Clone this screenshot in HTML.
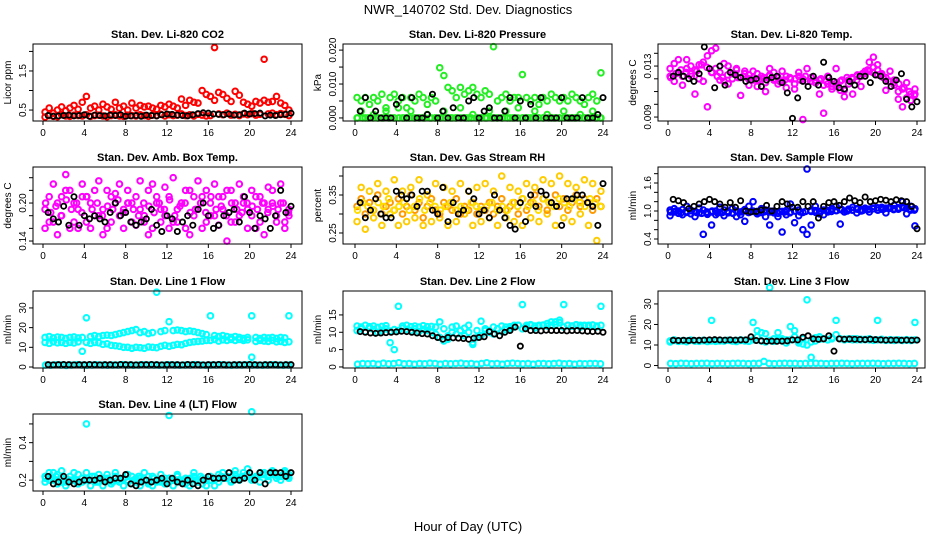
<!DOCTYPE html>
<html><head><meta charset="utf-8"><style>
body{margin:0;background:#fff}
svg{display:block;font-family:"Liberation Sans",sans-serif}
</style></head><body>
<svg id="c" width="936" height="540" viewBox="0 0 936 540">
<text x="468" y="14" text-anchor="middle" font-size="13">NWR_140702 Std. Dev. Diagnostics</text>
<text x="468" y="531" text-anchor="middle" font-size="13">Hour of Day (UTC)</text>
</svg>
<script>
const xTicks=[0,4,8,12,16,20,24];
const co2A=[0.32,0.36,0.34,0.33,0.38,0.35,0.34,0.37,0.36,0.35,0.38,0.34,0.36,0.37,0.35,0.33,0.36,0.38,0.35,0.34,0.37,0.36,0.35,0.38,0.36,0.34,0.37,0.36,0.39,0.35,0.38,0.36,0.37,0.4,0.36,0.38,0.35,0.39,0.37,0.35,0.36,2.1,0.4,0.38,0.42,0.37,0.39,0.36,0.4,0.38,0.41,0.37,0.39,1.8,0.4,0.42,0.38,0.41,0.39,0.36];
const co2B=[0.45,0.55,0.42,0.5,0.58,0.48,0.55,0.62,0.52,0.7,0.85,0.55,0.6,0.5,0.65,0.58,0.52,0.7,0.55,0.6,0.5,0.68,0.55,0.62,0.58,0.6,0.55,0.52,0.62,0.58,0.65,0.6,0.55,0.78,0.62,0.75,0.7,0.68,1.0,0.9,0.85,0.75,0.95,0.9,0.8,0.72,0.98,0.88,0.7,0.65,0.6,0.72,0.68,0.75,0.7,0.72,0.85,0.68,0.62,0.5];
const co2K=[0.36,0.34,0.35,0.36,0.37,0.35,0.36,0.38,0.34,0.37,0.36,0.35,0.37,0.36,0.38,0.34,0.35,0.36,0.34,0.37,0.36,0.35,0.38,0.4,0.39,0.37,0.36,0.35,0.38,0.41,0.43,0.42,0.4,0.39,0.38,0.4,0.37,0.38,0.42,0.4,0.41,0.42,0.35,0.37,0.36,0.38,0.39,0.42];
const presA=[0,0.002,0,0,0.001,0,0,0.002,0,0,0.003,0,0,0.002,0,0,0,0.001,0,0,0,0.002,0,0,0,0.003,0,0,0.001,0,0,0,0.002,0,0,0,0.002,0,0,0.003,0,0,0,0.002,0,0,0.001,0,0,0,0.002,0,0,0,0.001,0,0,0.002,0,0];
const presB=[0.006,0.005,0.006,0.004,0.006,0.005,0.007,0.003,0.006,0.007,0.005,0.006,0.003,0.006,0.005,0.007,0.006,0.004,0.006,0.005,0.0148,0.0125,0.009,0.008,0.006,0.009,0.007,0.008,0.009,0.007,0.006,0.008,0.007,0.021,0.005,0.006,0.007,0.005,0.006,0.006,0.0128,0.006,0.005,0.006,0.004,0.006,0.005,0.007,0.006,0.005,0.006,0.005,0.007,0.006,0.005,0.004,0.006,0.007,0.005,0.0133];
const presC=[0,0,0,0,0,0,0,0,0,0,0,0,0,0,0,0,0,0,0,0,0,0,0,0,0,0,0,0,0,0,0,0,0,0,0,0,0,0,0,0,0,0,0,0,0,0,0,0];
const presK=[0.002,0.006,0,0.002,0,0,0,0.004,0.006,0,0.006,0,0,0.001,0.007,0,0.002,0,0.003,0,0,0.005,0.006,0,0.002,0.003,0,0,0.002,0.006,0,0.005,0,0.004,0,0.006,0,0,0,0.006,0,0,0,0.006,0,0,0.001,0.006];
const tempA=[0.0128,0.0132,0.0125,0.0122,0.0135,0.013,0.0127,0.012,0.0133,0.0138,0.0142,0.0128,0.0125,0.0118,0.013,0.0124,0.0127,0.0121,0.0126,0.0123,0.0119,0.0124,0.012,0.0117,0.0123,0.0125,0.0121,0.0118,0.0122,0.012,0.0116,0.0122,0.012,0.0118,0.0121,0.0117,0.0119,0.0115,0.0116,0.0112,0.0114,0.0118,0.0111,0.0116,0.012,0.0119,0.0122,0.0124,0.0126,0.0129,0.0127,0.0123,0.0121,0.0118,0.0115,0.011,0.0112,0.0105,0.0103,0.0108];
const tempB=[0.0122,0.0118,0.0135,0.0115,0.0128,0.0124,0.0108,0.0131,0.0118,0.0098,0.0125,0.0144,0.0119,0.0132,0.0116,0.012,0.0128,0.0107,0.0124,0.0115,0.0126,0.0114,0.0122,0.011,0.0128,0.0119,0.0116,0.0126,0.0113,0.012,0.0112,0.0125,0.0088,0.0128,0.0121,0.0119,0.0108,0.0093,0.0122,0.0114,0.0128,0.0111,0.0106,0.0119,0.0108,0.0122,0.0114,0.0126,0.0133,0.0137,0.0131,0.0124,0.0111,0.0126,0.0119,0.0104,0.0098,0.0117,0.0108,0.0112];
const tempC=[0.0121,0.0124,0.0127,0.0125,0.0122,0.0126,0.0131,0.0129,0.0125,0.0122,0.0121,0.0123,0.0124,0.0121,0.0122,0.012,0.0121,0.0119,0.0121,0.0122,0.012,0.0118,0.0119,0.0121,0.012,0.0119,0.0122,0.0118,0.0117,0.012,0.0118,0.0116,0.0117,0.0119,0.0121,0.0121,0.0123,0.0124,0.0127,0.0125,0.0123,0.0121,0.0118,0.0117,0.0116,0.0113,0.011,0.0107];
const tempK=[0.0122,0.0125,0.0122,0.012,0.0118,0.0124,0.0145,0.0128,0.0113,0.013,0.0115,0.0125,0.0123,0.0121,0.0118,0.0119,0.012,0.0114,0.0119,0.0121,0.0122,0.0117,0.0109,0.0089,0.0105,0.0118,0.0114,0.0122,0.0115,0.0133,0.0121,0.0118,0.0113,0.0112,0.0118,0.0115,0.0122,0.0122,0.0117,0.0123,0.0122,0.0118,0.0114,0.0119,0.0124,0.0104,0.0098,0.0102];
const ambA=[0.19,0.21,0.17,0.2,0.18,0.22,0.16,0.2,0.19,0.21,0.17,0.2,0.22,0.18,0.19,0.16,0.21,0.2,0.18,0.19,0.2,0.17,0.21,0.19,0.18,0.22,0.16,0.2,0.19,0.18,0.21,0.17,0.19,0.2,0.16,0.22,0.18,0.19,0.21,0.17,0.2,0.18,0.21,0.19,0.22,0.17,0.2,0.18,0.21,0.19,0.18,0.21,0.17,0.2,0.19,0.22,0.18,0.2,0.17,0.19];
const ambB=[0.16,0.17,0.23,0.15,0.21,0.245,0.22,0.17,0.16,0.23,0.21,0.16,0.18,0.235,0.15,0.22,0.17,0.215,0.23,0.16,0.22,0.2,0.165,0.235,0.17,0.15,0.23,0.21,0.17,0.225,0.16,0.24,0.17,0.2,0.22,0.15,0.21,0.235,0.16,0.22,0.18,0.23,0.165,0.21,0.14,0.22,0.17,0.23,0.2,0.16,0.22,0.16,0.21,0.15,0.225,0.2,0.17,0.23,0.16,0.18];
const ambC=[0.2,0.185,0.195,0.18,0.205,0.19,0.2,0.185,0.21,0.19,0.2,0.18,0.195,0.19,0.205,0.185,0.2,0.19,0.18,0.2,0.195,0.185,0.2,0.19,0.205,0.18,0.195,0.2,0.185,0.19,0.2,0.185,0.21,0.19,0.195,0.18,0.2,0.19,0.185,0.2,0.195,0.19,0.2,0.185,0.195,0.19,0.2,0.185];
const ambK=[0.185,0.175,0.17,0.195,0.165,0.21,0.165,0.18,0.175,0.18,0.175,0.17,0.185,0.2,0.18,0.185,0.17,0.165,0.17,0.175,0.19,0.165,0.155,0.18,0.175,0.155,0.17,0.18,0.165,0.19,0.2,0.18,0.16,0.165,0.18,0.185,0.19,0.17,0.21,0.185,0.16,0.18,0.175,0.16,0.18,0.22,0.185,0.195];
const rhA=[0.32,0.34,0.3,0.33,0.31,0.35,0.3,0.32,0.33,0.31,0.34,0.3,0.32,0.35,0.31,0.33,0.29,0.32,0.34,0.31,0.3,0.33,0.32,0.31,0.34,0.3,0.32,0.31,0.33,0.3,0.32,0.31,0.33,0.3,0.32,0.34,0.31,0.32,0.33,0.3,0.34,0.31,0.33,0.35,0.32,0.34,0.31,0.33,0.35,0.32,0.34,0.31,0.33,0.35,0.32,0.34,0.33,0.31,0.34,0.32];
const rhB=[0.28,0.37,0.26,0.36,0.29,0.38,0.27,0.36,0.3,0.39,0.27,0.36,0.28,0.37,0.29,0.39,0.27,0.35,0.28,0.38,0.29,0.37,0.27,0.36,0.28,0.38,0.3,0.36,0.27,0.37,0.28,0.38,0.29,0.36,0.27,0.4,0.29,0.37,0.28,0.36,0.27,0.38,0.29,0.37,0.28,0.39,0.3,0.38,0.27,0.4,0.29,0.38,0.28,0.37,0.3,0.39,0.27,0.38,0.23,0.36];
const rhC=[0.31,0.33,0.32,0.31,0.33,0.32,0.34,0.31,0.32,0.33,0.31,0.32,0.34,0.31,0.33,0.32,0.31,0.32,0.33,0.31,0.32,0.31,0.33,0.32,0.31,0.32,0.33,0.31,0.32,0.31,0.33,0.32,0.34,0.32,0.33,0.31,0.34,0.33,0.32,0.34,0.33,0.32,0.34,0.33,0.32,0.34,0.33,0.32];
const rhK=[0.33,0.29,0.31,0.34,0.3,0.29,0.29,0.36,0.35,0.34,0.35,0.32,0.36,0.36,0.31,0.3,0.37,0.28,0.33,0.3,0.31,0.36,0.34,0.3,0.31,0.29,0.35,0.31,0.29,0.27,0.26,0.33,0.28,0.35,0.32,0.36,0.35,0.33,0.32,0.27,0.34,0.34,0.35,0.35,0.33,0.32,0.27,0.38];
const sfA=[1.02,0.98,1.0,1.03,0.97,1.01,0.99,0.96,1.02,0.95,0.98,1.0,0.97,1.02,0.99,0.96,1.0,0.98,1.03,0.97,1.0,0.99,0.97,1.02,0.98,1.0,0.95,0.99,1.01,0.98,1.0,1.02,0.97,1.9,0.99,1.01,0.98,1.02,1.0,1.03,1.01,1.03,0.99,1.04,1.02,1.05,1.03,1.06,1.04,1.05,1.07,1.04,1.06,1.08,1.05,1.07,1.09,1.06,1.1,1.05];
const sfB=[0.9,1.05,0.95,0.92,1.1,0.94,0.88,1.06,0.5,0.93,0.7,0.92,1.08,0.9,0.96,1.05,0.88,0.92,0.78,1.1,1.2,0.94,1.05,0.88,0.7,0.96,0.88,0.55,0.92,1.15,0.75,0.9,0.6,0.5,0.7,1.1,0.94,0.92,0.98,1.05,1.1,0.72,0.98,1.02,1.08,0.96,1.0,1.04,0.98,1.1,1.02,1.08,0.96,1.06,1.12,1.04,1.2,0.94,1.02,0.68];
const sfC=[0.98,1.0,0.96,0.99,1.01,0.97,0.95,0.98,1.0,0.96,0.97,0.99,0.95,0.98,1.0,0.97,0.99,0.96,0.98,1.0,0.97,0.99,0.98,0.96,1.0,0.98,0.99,1.01,0.97,1.0,1.02,0.99,1.01,1.03,1.0,1.02,1.04,1.01,1.03,1.05,1.02,1.04,1.06,1.03,1.05,1.07,1.04,1.02];
const sfK=[1.25,1.22,1.18,1.05,1.1,1.15,1.2,1.25,1.2,1.15,1.08,1.18,1.08,1.22,1.0,0.98,0.99,1.02,1.12,1.0,1.1,1.2,1.15,1.08,1.08,1.2,1.1,1.2,0.85,1.1,1.18,1.2,1.12,1.2,1.28,1.22,1.18,1.3,1.2,1.22,1.25,1.23,1.2,1.24,1.22,1.2,1.1,0.62];
const l1A=[15,15.5,14.8,15.2,15,14.5,15,15.3,14.8,15,25,15.5,16,15.5,16,16.2,16,16.5,17,17.5,18,18.5,19,17.5,18,17,17.5,38,18,18.5,23,18.5,18.8,18.5,18,18.3,18,17.5,17,16.5,26,16,15.5,16,15.5,15,15.5,15,14.5,15,26,15,14.5,15,14.8,15,14.5,15,14.8,26];
const l1B=[12.5,12,12.8,12.3,12.5,12,12.5,12.2,12.8,8,12.5,12,12.5,12.3,11.5,11.8,11,10.8,10.5,10,10,9.5,10,9.8,9.5,10.2,10,9.8,10.5,11,10.5,11,11.5,11.3,12,12.5,12.8,13,13.2,13.5,13.5,14,13.2,13.8,13.5,14,13.5,14,13.5,13.8,5,13,13.5,13.2,13,13.5,12.8,13,12.5,12.8];
const l1C=[1,0.9,1.1,1,0.8,1,1.2,1,0.9,1,1.1,1,0.9,1,1,1.2,1,0.9,1,1.1,1,1,0.9,1,1.1,1,0.9,1,1,1.2,1,0.9,1,1,1.1,1,0.9,1,1,1.1,1,1,0.9,1,1.1,1,0.9,1];
const l1K=[1.2,1.1,1.2,1.3,1.2,1.1,1.2,1.2,1.3,1.2,1.1,1.2,1.2,1.1,1.3,1.2,1.2,1.1,1.2,1.2,1.3,1.2,1.1,1.2,1.2,1.2,1.1,1.3,1.2,1.2,1.1,1.2,1.2,1.3,1.2,1.1,1.2,1.2,1.2,1.3,1.2,1.1,1.2,1.2,1.2,1.1,1.2,1.2];
const l2A=[11.8,11.5,12,11.6,11.8,11.4,11.7,11.9,7,5,17.5,11.8,12,11.6,11.8,11.5,11.9,11.6,11.7,11.5,13,11,8,11.5,11.8,10.5,11.2,12,7,10.5,13.2,11,10.5,11.5,11,11.8,11.5,11.6,12,12,18,12,12.2,11.8,12,12.1,11.8,12,13,13.5,18,12,11.8,12.1,12,11.9,12,12.1,11.8,17.5];
const l2B=[10.5,11,10.2,11.2,10.8,10,10.5,11,10.3,10.8,10.5,11.2,10.8,10.5,11,10.2,10.8,10.5,10,9.5,8.5,7.5,9,10,9.5,10.5,9,10,6.5,8.5,9,10.5,10,9.5,11,10.2,10.8,11,11.5,12,11,11.5,12,11.2,11.8,12,12.5,13,12.2,12.8,11.5,12,11.8,12.2,11.5,12,11.8,12.1,11.6,12];
const l2C=[0.8,1,0.9,1,0.8,1.1,0.9,1,1.2,0.9,1,0.8,1,0.9,1.1,1,0.8,1,0.9,1,1.1,0.9,1,0.8,1,1.2,0.9,1,0.8,1,1.1,1,0.9,1,0.8,1,1,0.9,1,1.1,0.9,1,0.8,1,0.9,1,1,0.9];
const l2K=[10.2,10,9.8,9.7,9.8,9.9,10,10.1,10.3,10.2,10,9.8,9.6,9.5,9,8.5,8,8.5,8.4,8.3,8.2,8,8.3,8.5,8.7,10.2,9.5,9,10,10.5,11.5,6,11,10.5,10.5,10.4,10.6,10.5,10.5,10.5,10.4,10.5,10.5,10.4,10.3,10.2,10.3,10];
const l3A=[12,12.2,11.8,12.1,12,12.3,11.9,12,12.1,12,22,12.2,12,12.1,12.3,12,12.2,12.5,12.3,12,21,17,16,15.5,38,13,16,13,12.5,19,17,12,13,32,4,13.5,14,13,12.5,13.5,22,13,12.5,12.8,13,12.6,12.5,12.7,12.5,12.3,22,12.5,12.3,12.4,12.2,12.5,12.3,12.4,12.2,21];
const l3B=[11.5,12.5,11.8,12,11.6,12.4,12,11.8,12.3,11.7,12,11.8,12.2,11.9,12.3,12,11.7,12.2,12,11.8,12.5,14,12,11.5,12.2,11.8,12.5,12,11,12.5,14,11,10.5,10,11.5,12,12.8,13,12.5,13,15,13,12.8,13,12.5,13,12.8,12.6,13,12.4,12.5,12.8,12.3,12.6,12.4,12.5,12.2,12.6,12.3,12.5];
const l3C=[1,0.9,1.1,1,0.9,1,1,1.1,0.9,1,1,0.9,1,1.1,1,0.9,1,1,2,1,0.9,1,1.1,1,1,0.9,1,1,1.1,1,0.9,1,1,1.1,1,0.9,1,1,1,1.1,1,0.9,1,1,1.1,1,0.9,1];
const l3K=[12.3,12.2,12.3,12.2,12.3,12.3,12.4,12.5,12.6,12.5,12.4,12.5,12.4,12.5,12.5,14,12.2,12,11.8,11.9,11.8,11.9,12,12.5,12.5,13.8,14.5,13,12.8,13,14.5,7,13,12.8,12.9,12.8,12.7,12.6,12.8,12.6,12.5,12.4,12.4,12.4,12.3,12.4,12.3,12.4];
const l4A=[0.22,0.24,0.2,0.23,0.21,0.19,0.22,0.2,0.23,0.21,0.5,0.2,0.22,0.19,0.21,0.23,0.2,0.22,0.19,0.21,0.2,0.22,0.19,0.21,0.2,0.18,0.22,0.2,0.19,0.21,0.545,0.2,0.22,0.19,0.21,0.2,0.22,0.19,0.21,0.2,0.22,0.2,0.23,0.21,0.22,0.2,0.23,0.21,0.24,0.22,0.565,0.22,0.24,0.23,0.22,0.24,0.23,0.22,0.24,0.23];
const l4B=[0.19,0.2,0.24,0.18,0.25,0.17,0.2,0.24,0.18,0.19,0.24,0.17,0.19,0.23,0.17,0.2,0.18,0.24,0.21,0.17,0.23,0.18,0.21,0.17,0.24,0.22,0.17,0.19,0.23,0.18,0.21,0.17,0.23,0.2,0.18,0.17,0.24,0.2,0.18,0.17,0.2,0.17,0.19,0.24,0.21,0.19,0.25,0.2,0.22,0.26,0.2,0.21,0.19,0.24,0.2,0.25,0.21,0.2,0.25,0.21];
const l4C=[0.21,0.2,0.22,0.19,0.21,0.2,0.19,0.21,0.2,0.22,0.19,0.2,0.21,0.19,0.2,0.21,0.19,0.2,0.22,0.2,0.19,0.21,0.2,0.19,0.21,0.2,0.19,0.2,0.21,0.2,0.22,0.21,0.2,0.21,0.22,0.21,0.22,0.21,0.22,0.23,0.21,0.22,0.23,0.22,0.23,0.22,0.23,0.22];
const l4K=[0.22,0.18,0.19,0.22,0.19,0.18,0.19,0.2,0.2,0.2,0.21,0.19,0.2,0.21,0.21,0.23,0.18,0.17,0.19,0.2,0.19,0.2,0.21,0.18,0.21,0.19,0.18,0.2,0.18,0.17,0.2,0.22,0.21,0.21,0.21,0.24,0.2,0.2,0.21,0.24,0.2,0.24,0.18,0.24,0.24,0.24,0.22,0.24];

const NS='http://www.w3.org/2000/svg';
const svg=document.getElementById('c');
function mk(tag,attrs,parent){const e=document.createElementNS(NS,tag);for(const k in attrs)e.setAttribute(k,attrs[k]);(parent||svg).appendChild(e);return e;}
const cols=[{l:33,r:302,x0:43,x1:291},{l:343,r:612,x0:355,x1:603},{l:658,r:925,x0:668,x1:917}];
const rows=[44,167,291,414];
const H=77;
const panels=[
 {key:'co2',t:'Stan. Dev. Li-820 CO2',yl:'Licor ppm',lo:0.22,hi:2.19,ticks:[0.5,1,1.5,2],labs:['0.5','','1.5',''],c:['#ff0000','#ff0000'],s:[co2B,co2A],k:co2K},
 {key:'pressure',t:'Stan. Dev. Li-820 Pressure',yl:'kPa',lo:-0.0009,hi:0.0218,ticks:[0,0.005,0.01,0.015,0.02],labs:['0.000','','0.010','','0.020'],c:['#22ee22','#22ee22','#22ee22'],s:[presC,presA,presB],k:presK},
 {key:'temp',t:'Stan. Dev. Li-820 Temp.',yl:'degrees C',lo:0.00869,hi:0.01473,ticks:[0.009,0.01,0.011,0.012,0.013,0.014],labs:['0.009','','','','0.013',''],c:['#ff00ff','#ff00ff','#ff00ff'],s:[tempB,tempC,tempA],k:tempK},
 {key:'amb',t:'Stan. Dev. Amb. Box Temp.',yl:'degrees C',lo:0.1353,hi:0.2569,ticks:[0.14,0.16,0.18,0.2,0.22,0.24],labs:['0.14','','','0.20','',''],c:['#ff00ff','#ff00ff','#ff00ff'],s:[ambB,ambC,ambA],k:ambK},
 {key:'rh',t:'Stan. Dev. Gas Stream RH',yl:'percent',lo:0.221,hi:0.4237,ticks:[0.25,0.3,0.35,0.4],labs:['0.25','','0.35',''],c:['#ffcc00','#ff9900','#ffdd00'],s:[rhB,rhA,rhC],k:rhK},
 {key:'sample-flow',t:'Stan. Dev. Sample Flow',yl:'ml/min',lo:0.293,hi:1.943,ticks:[0.4,0.6,0.8,1,1.2,1.4,1.6,1.8],labs:['0.4','','','1.0','','','1.6',''],c:['#0000ff','#0000ff','#0000ff'],s:[sfB,sfC,sfA],k:sfK},
 {key:'line1',t:'Stan. Dev. Line 1 Flow',yl:'ml/min',lo:-0.5,hi:38.6,ticks:[0,10,20,30],labs:['0','10','20','30'],c:['#00ffff','#00ffff','#00ffff'],s:[l1C,l1B,l1A],k:l1K},
 {key:'line2',t:'Stan. Dev. Line 2 Flow',yl:'ml/min',lo:-0.3,hi:21.9,ticks:[0,5,10,15],labs:['0','5','10','15'],c:['#00ffff','#00ffff','#00ffff'],s:[l2C,l2B,l2A],k:l2K},
 {key:'line3',t:'Stan. Dev. Line 3 Flow',yl:'ml/min',lo:-1.2,hi:36.3,ticks:[0,10,20,30],labs:['0','10','20','30'],c:['#00ffff','#00ffff','#00ffff'],s:[l3C,l3B,l3A],k:l3K},
 {key:'line4',t:'Stan. Dev. Line 4 (LT) Flow',yl:'ml/min',lo:0.142,hi:0.553,ticks:[0.2,0.3,0.4,0.5],labs:['0.2','','0.4',''],c:['#00ffff','#00ffff','#00ffff'],s:[l4B,l4C,l4A],k:l4K}
];
panels.forEach((p,i)=>{
  const col=cols[i%3], top=rows[Math.floor(i/3)], bot=top+H;
  const g=mk('g',{});
  
  
  const xs=h=>col.x0+h/24*(col.x1-col.x0);
  const ys=v=>bot-(v-p.lo)/(p.hi-p.lo)*H;
  const cx=(col.l+col.r)/2;
  const t=mk('text',{x:cx,y:top-6,'text-anchor':'middle','font-size':11,'font-weight':'bold'},g);t.textContent=p.t;
  
  const yl=mk('text',{transform:`translate(${col.l-22},${(top+bot)/2}) rotate(-90)`,'text-anchor':'middle','font-size':10},g);yl.textContent=p.yl;
  
  const pts=mk('g',{},g);
  
  p.s.forEach((arr,si)=>{const step=24/arr.length;arr.forEach((v,j)=>{
    const c=mk('circle',{cx:xs(j*step+step/2),cy:ys(v),r:2.8,fill:'none',stroke:p.c[si],'stroke-width':2},pts);
    
  });});
  p.k.forEach((v,j)=>{
    const c=mk('circle',{cx:xs((j+1)*0.5),cy:ys(v),r:2.6,fill:'none',stroke:'#000','stroke-width':1.8},pts);
    
  });
  const box=mk('rect',{x:col.l,y:top,width:col.r-col.l,height:H,fill:'none',stroke:'#000','stroke-width':1},g);
  
  const xa=mk('g',{},g);
  xTicks.forEach(h=>{const x=xs(h);mk('line',{x1:x,x2:x,y1:bot,y2:bot+4,stroke:'#000'},xa);
    const tx=mk('text',{x:x,y:bot+15,'text-anchor':'middle','font-size':10},xa);tx.textContent=h;});
  const ya=mk('g',{},g);
  p.ticks.forEach((v,j)=>{const y=ys(v);mk('line',{x1:col.l-4,x2:col.l,y1:y,y2:y,stroke:'#000'},ya);
    if(p.labs[j]){const tx=mk('text',{transform:`translate(${col.l-7},${y}) rotate(-90)`,'text-anchor':'middle','font-size':10},ya);tx.textContent=p.labs[j];}});
});
</script>
</body></html>
